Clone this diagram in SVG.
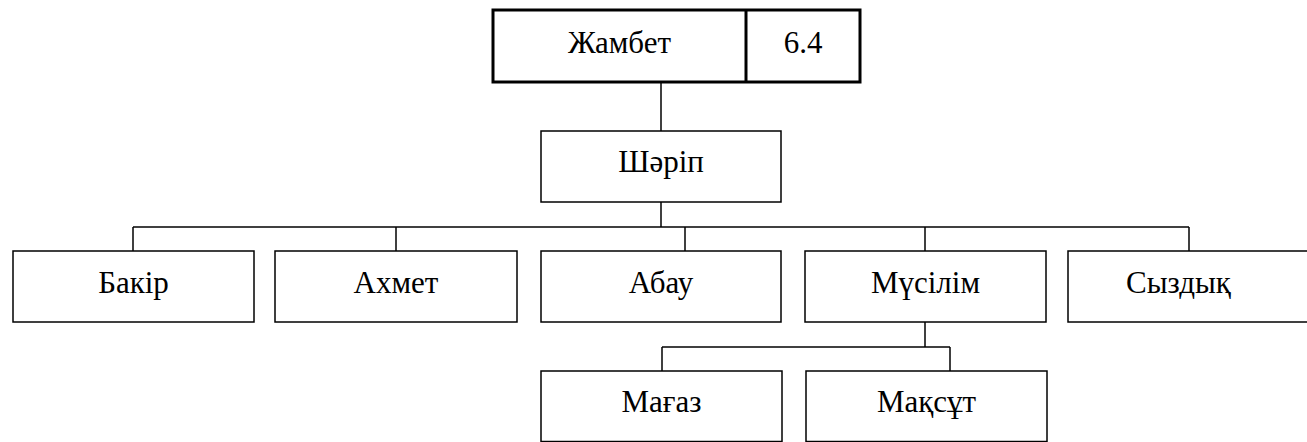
<svg xmlns="http://www.w3.org/2000/svg" width="1307" height="442" viewBox="0 0 1307 442">
<style>
.box{fill:#fff;stroke:#000;stroke-width:1.5}
.thick{fill:#fff;stroke:#000;stroke-width:3}
.c{fill:none;stroke:#000;stroke-width:1.5}
</style>
<rect width="1307" height="442" fill="#fff"/>
<g id="connectors">
<line class="c" x1="661" y1="82" x2="661" y2="131"/>
<line class="c" x1="661" y1="202" x2="661" y2="227"/>
<line class="c" x1="133" y1="227" x2="1189" y2="227"/>
<line class="c" x1="133" y1="227" x2="133" y2="251"/>
<line class="c" x1="396" y1="227" x2="396" y2="251"/>
<line class="c" x1="685" y1="227" x2="685" y2="251"/>
<line class="c" x1="925" y1="227" x2="925" y2="251"/>
<line class="c" x1="1189" y1="227" x2="1189" y2="251"/>
<line class="c" x1="925" y1="322" x2="925" y2="347"/>
<line class="c" x1="662" y1="347" x2="950" y2="347"/>
<line class="c" x1="662" y1="347" x2="662" y2="371"/>
<line class="c" x1="950" y1="347" x2="950" y2="371"/>
</g>
<g font-family="'Times New Roman', Tinos, 'Liberation Serif', serif" font-size="31" fill="#000" text-anchor="middle">
<g id="n-zhambet">
<rect class="thick" x="493" y="10" width="367" height="72"/>
<line x1="746" y1="10" x2="746" y2="82" stroke="#000" stroke-width="3"/>
<text x="619.5" y="53">Жамбет</text>
<text x="803" y="53">6.4</text>
</g>
<g id="n-sharip">
<rect class="box" x="541" y="131" width="240" height="71"/>
<text x="661" y="172">Шәріп</text>
</g>
<g id="n-bakir">
<rect class="box" x="13" y="251" width="241" height="71"/>
<text x="133.5" y="293">Бакір</text>
</g>
<g id="n-akhmet">
<rect class="box" x="275" y="251" width="242" height="71"/>
<text x="396" y="293">Ахмет</text>
</g>
<g id="n-abay">
<rect class="box" x="541" y="251" width="240" height="71"/>
<text x="661" y="293">Абау</text>
</g>
<g id="n-musilim">
<rect class="box" x="805" y="251" width="241" height="71"/>
<text x="925.5" y="293">Мүсілім</text>
</g>
<g id="n-syzdyk">
<rect class="box" x="1068" y="251" width="242" height="71"/>
<text x="1178.5" y="293">Сыздық</text>
</g>
<g id="n-magaz">
<rect class="box" x="541" y="371" width="241" height="70.5"/>
<text x="661.5" y="412">Мағаз</text>
</g>
<g id="n-maksut">
<rect class="box" x="806" y="371" width="241" height="70.5"/>
<text x="926.5" y="412">Мақсұт</text>
</g>
</g>
</svg>
